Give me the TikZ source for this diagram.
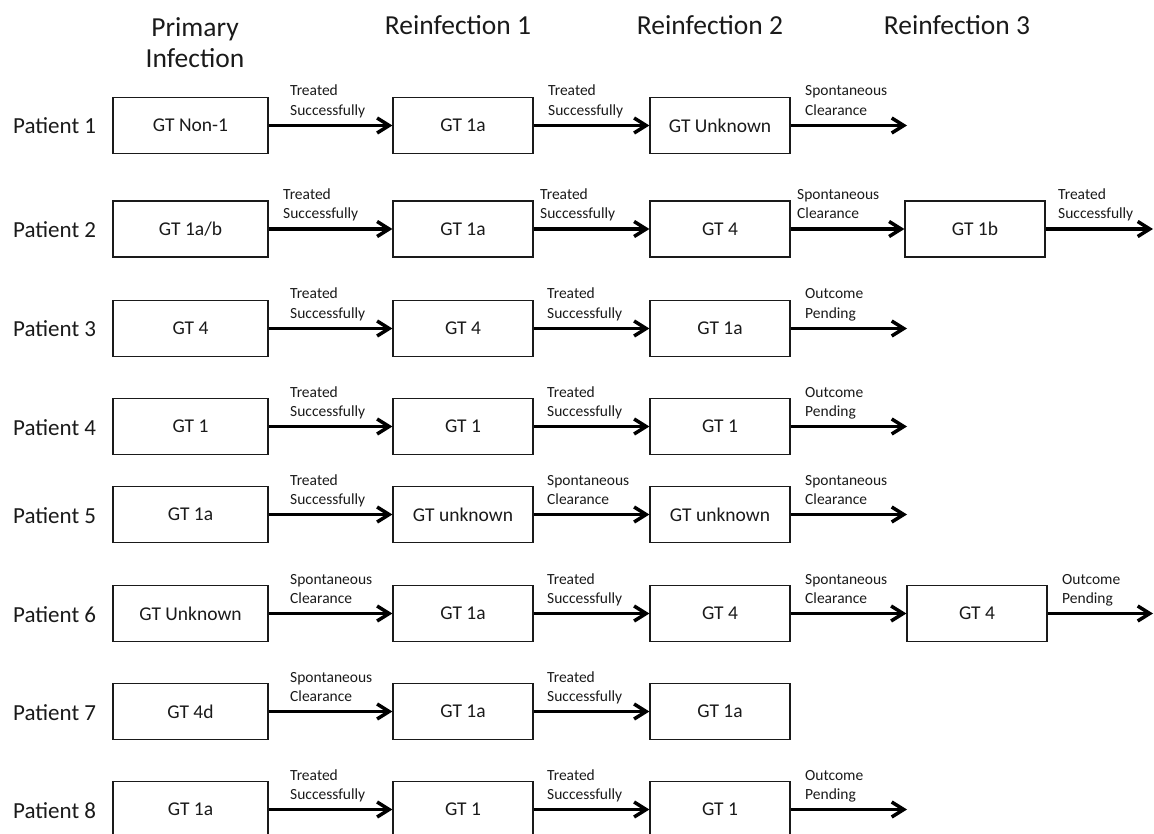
\documentclass[tikz,border=0pt]{standalone}
\usepackage{fontspec}
\setmainfont{Carlito}
\usetikzlibrary{arrows.meta}
\definecolor{ink}{HTML}{1A1A1A}
\tikzset{
  box/.style={draw=ink, line width=1.2pt, minimum width=140pt, minimum height=56pt, inner sep=0pt, font=\fontsize{19.5}{22}\selectfont, text=ink},
  arr/.style={draw=black, line width=3.5pt, -{Straight Barb[length=12pt,width=15pt,line width=3.5pt]}},
  lab/.style={anchor=base west, inner sep=0pt, font=\fontsize{15.5}{18}\selectfont, text=ink},
  pat/.style={anchor=base west, inner sep=0pt, font=\fontsize{23}{26}\selectfont, text=ink},
  head/.style={anchor=base, inner sep=0pt, font=\fontsize{27.5}{30}\selectfont, text=ink},
}
\newcommand\edgelab[5]{%
  \node[lab] (#1a) at (#2,#3-29.5) {#4};
  \node[lab] (#1b) at (#2,#3-10) {#5};}
\begin{document}
\begin{tikzpicture}[x=1pt,y=-1pt]
\useasboundingbox (0,0) rectangle (1154,834);
% headers
\node[head] (h1a) at (195,36.7) {Primary};
\node[head] (h1b) at (195,68) {Infection};
\node[head] (h2) at (458,35) {Reinfection 1};
\node[head] (h3) at (710,35) {Reinfection 2};
\node[head] (h4) at (957,35) {Reinfection 3};
% patient labels
\node[pat] (p1) at (13,134) {Patient 1};
\node[pat] (p2) at (13,237.5) {Patient 2};
\node[pat] (p3) at (13,337) {Patient 3};
\node[pat] (p4) at (13,435) {Patient 4};
\node[pat] (p5) at (13,523) {Patient 5};
\node[pat] (p6) at (13,622) {Patient 6};
\node[pat] (p7) at (13,720) {Patient 7};
\node[pat] (p8) at (13,818) {Patient 8};

% Row 1
\node[box, minimum width=155pt] (b11) at (190.5,125.5) {GT Non-1};
\node[box] (b12) at (463,125.5) {GT 1a};
\node[box] (b13) at (720,125.5) {GT Unknown};
\coordinate (e1) at (907,125.5);
\draw[arr] (b11.east) -- (b12.west);
\draw[arr] (b12.east) -- (b13.west);
\draw[arr] (b13.east) -- (e1);
\edgelab{l11}{290}{125.5}{Treated}{Successfully}
\edgelab{l12}{548}{125.5}{Treated}{Successfully}
\edgelab{l13}{805}{125.5}{Spontaneous}{Clearance}

% Row 2
\node[box, minimum width=155pt] (b21) at (190.5,229) {GT 1a/b};
\node[box] (b22) at (463,229) {GT 1a};
\node[box] (b23) at (720,229) {GT 4};
\node[box] (b24) at (975,229) {GT 1b};
\coordinate (e2) at (1153,229);
\draw[arr] (b21.east) -- (b22.west);
\draw[arr] (b22.east) -- (b23.west);
\draw[arr] (b23.east) -- (b24.west);
\draw[arr] (b24.east) -- (e2);
\edgelab{l21}{283}{229}{Treated}{Successfully}
\edgelab{l22}{540}{229}{Treated}{Successfully}
\edgelab{l23}{797}{229}{Spontaneous}{Clearance}
\edgelab{l24}{1058}{229}{Treated}{Successfully}

% Row 3
\node[box, minimum width=155pt] (b31) at (190.5,328.5) {GT 4};
\node[box] (b32) at (463,328.5) {GT 4};
\node[box] (b33) at (720,328.5) {GT 1a};
\coordinate (e3) at (907,328.5);
\draw[arr] (b31.east) -- (b32.west);
\draw[arr] (b32.east) -- (b33.west);
\draw[arr] (b33.east) -- (e3);
\edgelab{l31}{290}{328.5}{Treated}{Successfully}
\edgelab{l32}{547}{328.5}{Treated}{Successfully}
\edgelab{l33}{805}{328.5}{Outcome}{Pending}

% Row 4
\node[box, minimum width=155pt] (b41) at (190.5,426.5) {GT 1};
\node[box] (b42) at (463,426.5) {GT 1};
\node[box] (b43) at (720,426.5) {GT 1};
\coordinate (e4) at (907,426.5);
\draw[arr] (b41.east) -- (b42.west);
\draw[arr] (b42.east) -- (b43.west);
\draw[arr] (b43.east) -- (e4);
\edgelab{l41}{290}{426.5}{Treated}{Successfully}
\edgelab{l42}{547}{426.5}{Treated}{Successfully}
\edgelab{l43}{805}{426.5}{Outcome}{Pending}

% Row 5
\node[box, minimum width=155pt] (b51) at (190.5,514.5) {GT 1a};
\node[box] (b52) at (463,514.5) {GT unknown};
\node[box] (b53) at (720,514.5) {GT unknown};
\coordinate (e5) at (907,514.5);
\draw[arr] (b51.east) -- (b52.west);
\draw[arr] (b52.east) -- (b53.west);
\draw[arr] (b53.east) -- (e5);
\edgelab{l51}{290}{514.5}{Treated}{Successfully}
\edgelab{l52}{547}{514.5}{Spontaneous}{Clearance}
\edgelab{l53}{805}{514.5}{Spontaneous}{Clearance}

% Row 6
\node[box, minimum width=155pt] (b61) at (190.5,613.5) {GT Unknown};
\node[box] (b62) at (463,613.5) {GT 1a};
\node[box] (b63) at (720,613.5) {GT 4};
\node[box] (b64) at (977,613.5) {GT 4};
\coordinate (e6) at (1153,613.5);
\draw[arr] (b61.east) -- (b62.west);
\draw[arr] (b62.east) -- (b63.west);
\draw[arr] (b63.east) -- (b64.west);
\draw[arr] (b64.east) -- (e6);
\edgelab{l61}{290}{613.5}{Spontaneous}{Clearance}
\edgelab{l62}{547}{613.5}{Treated}{Successfully}
\edgelab{l63}{805}{613.5}{Spontaneous}{Clearance}
\edgelab{l64}{1062}{613.5}{Outcome}{Pending}

% Row 7
\node[box, minimum width=155pt] (b71) at (190.5,711.5) {GT 4d};
\node[box] (b72) at (463,711.5) {GT 1a};
\node[box] (b73) at (720,711.5) {GT 1a};
\draw[arr] (b71.east) -- (b72.west);
\draw[arr] (b72.east) -- (b73.west);
\edgelab{l71}{290}{711.5}{Spontaneous}{Clearance}
\edgelab{l72}{547}{711.5}{Treated}{Successfully}

% Row 8
\node[box, minimum width=155pt] (b81) at (190.5,809.5) {GT 1a};
\node[box] (b82) at (463,809.5) {GT 1};
\node[box] (b83) at (720,809.5) {GT 1};
\coordinate (e8) at (907,809.5);
\draw[arr] (b81.east) -- (b82.west);
\draw[arr] (b82.east) -- (b83.west);
\draw[arr] (b83.east) -- (e8);
\edgelab{l81}{290}{809.5}{Treated}{Successfully}
\edgelab{l82}{547}{809.5}{Treated}{Successfully}
\edgelab{l83}{805}{809.5}{Outcome}{Pending}
\end{tikzpicture}
\end{document}
